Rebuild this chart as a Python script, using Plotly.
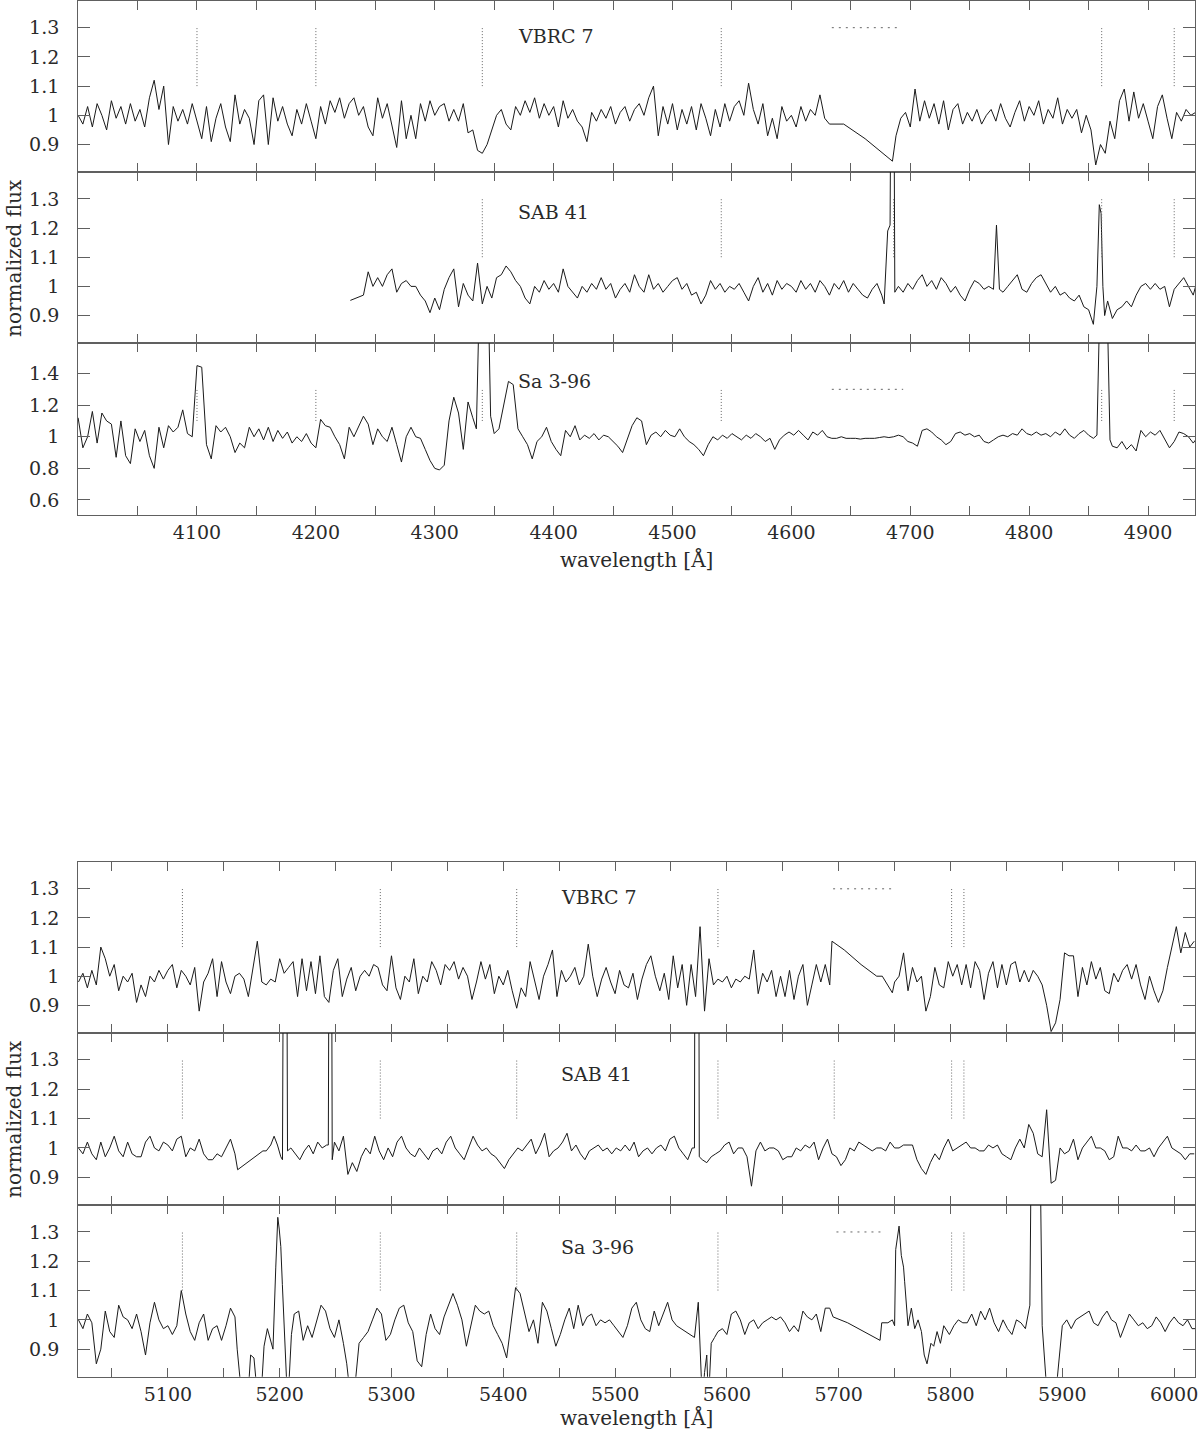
import plotly.graph_objects as go

# ------------------------------------------------------------------
# DATA  (normalized flux; wavelengths in Angstrom)
# grid segments: (start wavelength, step, flux values)
# ------------------------------------------------------------------

# ---------- blue region (4000-4940 A) ----------
VBRC7_BLUE_A_START, VBRC7_BLUE_A_STEP = 4000, 4
VBRC7_BLUE_A = [
    1.00, 0.97, 1.03, 0.96, 1.04, 1.00, 0.95, 1.05, 0.99, 1.03,
    0.97, 1.04, 0.98, 1.02, 0.96, 1.06, 1.12, 1.02, 1.10, 0.90,
    1.03, 0.98, 1.02, 0.97, 1.04, 0.98, 0.92, 1.03, 0.91, 0.99,
    1.04, 0.96, 0.91, 1.07, 0.97, 1.02, 0.99, 0.90, 1.05, 1.07,
    0.90, 1.06, 0.98, 1.03, 0.97, 0.93, 1.02, 0.97, 1.04, 0.98,
    0.92, 1.03, 0.97, 1.05, 1.01, 1.06, 0.99, 1.04, 1.06, 1.00,
    1.03, 0.96, 0.93, 1.06, 0.99, 1.04, 0.97, 0.89, 1.05, 0.92,
    1.00, 0.92, 1.04, 0.98, 1.05, 1.00, 1.03, 1.04, 0.98, 1.02,
    0.98, 1.04, 0.94, 0.95, 0.88, 0.87, 0.90, 0.95, 1.00, 1.02,
    0.97, 0.95, 1.03, 1.00, 1.05, 1.01, 1.06, 0.99, 1.04, 1.00,
    1.03, 0.96, 1.05, 0.99, 1.02, 0.98, 0.96, 0.91, 1.01, 0.98,
    1.02, 0.99, 1.03, 0.97, 1.01, 1.03, 0.98, 1.02, 1.04, 1.00,
    1.06, 1.10, 0.93, 1.03, 0.97, 1.04, 0.95, 1.02, 0.97, 1.03,
    0.95, 1.04, 0.99, 0.93, 1.02, 0.96, 1.04, 0.98, 1.03, 1.05,
    1.00, 1.11, 1.02, 0.97, 1.04, 0.93, 0.99, 0.92, 1.03, 0.98,
    1.00, 0.96, 1.03, 0.98, 1.02, 1.00, 1.07, 0.99, 0.97,
]
VBRC7_BLUE_GAP_WL = [4644, 4662, 4685]
VBRC7_BLUE_GAP_FLUX = [0.97, 0.92, 0.843]
VBRC7_BLUE_B_START, VBRC7_BLUE_B_STEP = 4688, 4
VBRC7_BLUE_B = [
    0.93, 0.99, 1.01, 0.96, 1.09, 0.98, 1.05, 0.99, 1.04, 0.97,
    1.05, 0.95, 1.02, 1.04, 0.97, 1.01, 0.98, 1.02, 0.97, 1.00,
    1.02, 0.98, 1.04, 0.99, 0.96, 1.01, 1.05, 0.98, 1.03, 1.00,
    1.05, 0.97, 1.02, 0.99, 1.06, 0.97, 1.02, 0.99, 1.02, 0.94,
    1.00, 0.95, 0.83, 0.90, 0.87, 0.98, 0.92, 1.05, 1.09, 0.98,
    1.08, 0.99, 1.04, 0.98, 0.92, 1.03, 1.07, 0.99, 0.92, 1.01,
    0.98, 1.02, 1.00, 1.01,
]

SAB41_BLUE_START_WL = [4229]
SAB41_BLUE_START_FLUX = [0.952]
SAB41_BLUE_A_START, SAB41_BLUE_A_STEP = 4240, 4
SAB41_BLUE_A = [
    0.97, 1.05, 1.00, 1.03, 1.00, 1.04, 1.06, 0.98, 1.01, 1.02,
    1.00, 1.00, 0.97, 0.95, 0.91, 0.96, 0.92, 0.99, 1.03, 1.06,
    0.93, 1.01, 0.97, 0.95, 1.08, 0.94, 1.00, 0.96, 1.03, 1.04,
    1.07, 1.05, 1.02, 1.00, 0.96, 0.94, 1.00, 0.98, 1.02, 0.99,
    1.01, 0.98, 1.06, 1.00, 0.98, 0.96, 1.00, 0.98, 1.01, 0.99,
    1.03, 0.99, 1.01, 0.96, 0.99, 1.01, 0.98, 1.04, 1.00, 0.98,
    1.04, 0.99, 1.01, 0.98, 1.00, 1.02, 1.03, 0.99, 1.01, 0.97,
    0.98, 0.94, 0.97, 1.02, 0.99, 1.01, 0.98, 1.00, 0.99, 1.01,
    0.98, 0.95, 1.00, 1.03, 0.98, 1.01, 0.97, 1.02, 0.99, 1.01,
    1.00, 0.98, 1.02, 0.99, 1.01, 0.98, 1.02, 1.00, 0.97, 1.01,
    0.99, 1.02, 0.98, 1.01, 0.99, 0.97, 0.96, 0.99, 1.01, 0.97,
]
SAB41_HEII_WL = [4678, 4681, 4683, 4684, 4686, 4687]
SAB41_HEII_FLUX = [0.94, 1.19, 1.21, 1.95, 1.95, 0.98]
SAB41_BLUE_B_START, SAB41_BLUE_B_STEP = 4690, 4
SAB41_BLUE_B = [
    1.00, 0.98, 1.01, 0.99, 1.02, 1.04, 1.00, 1.02, 0.99, 1.03,
    1.01, 0.98, 1.00, 0.97, 0.95, 0.99, 1.02, 1.01, 0.99, 1.00,
]
SAB41_4772_WL = [4770, 4772.5, 4775]
SAB41_4772_FLUX = [0.99, 1.21, 0.99]
SAB41_BLUE_C_START, SAB41_BLUE_C_STEP = 4778, 4
SAB41_BLUE_C = [
    0.98, 1.00, 1.02, 1.04, 0.99, 0.98, 1.01, 1.03, 1.04, 1.01,
    0.98, 1.00, 0.97, 0.98, 0.96, 0.95, 0.97, 0.93,
]
SAB41_HBETA_WL = [4850, 4854, 4857, 4859, 4860.5, 4862, 4863.5]
SAB41_HBETA_FLUX = [0.92, 0.87, 1.00, 1.28, 1.25, 1.00, 0.90]
SAB41_BLUE_D_START, SAB41_BLUE_D_STEP = 4866, 4
SAB41_BLUE_D = [
    0.95, 0.89, 0.92, 0.93, 0.95, 0.93, 0.97, 1.00, 1.01, 0.99,
    1.01, 0.99, 1.00, 0.93, 0.99, 1.01, 1.03, 1.00, 0.97, 1.03,
]

SA396_BLUE_A_START, SA396_BLUE_A_STEP = 4000, 4
SA396_BLUE_A = [
    1.12, 0.93, 1.00, 1.16, 0.96, 1.15, 1.10, 1.08, 0.87, 1.10,
    0.88, 0.83, 1.05, 0.97, 1.04, 0.88, 0.80, 1.06, 0.93, 1.07,
    1.03, 1.06, 1.17, 1.02, 1.00, 1.45, 1.44, 0.95, 0.86, 1.07,
    1.03, 1.06, 1.00, 0.90, 0.96, 0.93, 1.06, 1.00, 1.05, 0.98,
    1.06, 0.97, 1.04, 0.99, 1.03, 0.96, 1.00, 0.97, 1.02, 0.96,
    0.93, 1.11, 1.07, 1.06, 1.00, 0.95, 0.86, 1.06, 1.00, 1.07,
    1.13, 1.08, 0.95, 1.05, 1.00, 0.97, 1.06, 0.95, 0.84, 1.00,
    1.06, 1.00, 0.99, 0.92, 0.85, 0.80, 0.79, 0.82, 1.10, 1.25,
    1.15, 0.92, 1.22, 1.12,
]
SA396_HGAMMA_WL = [4335, 4337, 4345.5, 4347]
SA396_HGAMMA_FLUX = [1.05, 1.70, 1.70, 1.13]
SA396_BLUE_B_START, SA396_BLUE_B_STEP = 4350, 4
SA396_BLUE_B = [
    1.02, 1.05, 1.20, 1.35, 1.33, 1.05, 1.00, 0.95, 0.86, 0.97,
    1.00, 1.06, 0.97, 0.92, 0.88, 1.04, 1.00, 1.07, 0.98, 1.01,
    0.99, 1.02, 0.98, 1.01, 1.00, 0.97, 0.94, 0.90, 0.98, 1.07,
    1.12, 1.10, 0.95, 1.01, 1.03, 1.00, 1.04, 1.01, 1.00, 1.05,
    1.00, 0.97, 0.95, 0.92, 0.88, 0.95, 1.00, 0.98, 1.01, 0.99,
    1.02, 1.00, 0.98, 1.01, 0.99, 1.02, 1.00, 0.97, 0.99, 0.92,
    0.98, 1.01, 1.03, 1.01, 1.04, 1.01, 0.98, 1.03, 1.01, 1.04,
    1.00, 0.99, 0.99, 1.00, 0.99, 0.99, 0.99, 0.985, 0.99, 0.99,
    0.99, 0.995, 1.00, 0.995, 1.00, 1.01, 1.00, 0.97, 0.96, 0.94,
    1.04, 1.05, 1.03, 1.00, 0.98, 0.95, 0.97, 1.02, 1.03, 1.01,
    1.02, 1.00, 1.01, 0.97, 0.96, 0.98, 1.00, 1.01, 1.00, 1.02,
    1.01, 1.05, 1.02, 1.01, 1.03, 1.01, 1.02, 1.00, 1.03, 1.01,
    1.05, 1.01, 0.99, 1.02, 1.04, 1.01, 0.99,
]
SA396_HBETA_WL = [4857, 4859, 4866, 4868]
SA396_HBETA_FLUX = [1.01, 1.70, 1.70, 0.98]
SA396_BLUE_C_START, SA396_BLUE_C_STEP = 4870, 4
SA396_BLUE_C = [
    0.94, 0.93, 0.97, 0.92, 0.95, 0.91, 1.04, 1.00, 1.03, 1.01,
    1.04, 0.98, 0.93, 0.97, 1.03, 1.02, 1.00, 0.96, 1.00,
]

# ---------- red region (5020-6020 A) ----------
VBRC7_RED_A_START, VBRC7_RED_A_STEP = 5020, 4
VBRC7_RED_A = [
    0.98, 1.01, 0.96, 1.02, 0.97, 1.10, 1.06, 1.00, 1.04, 0.95,
    1.00, 0.98, 1.01, 0.91, 0.97, 0.93, 1.00, 0.98, 1.02, 0.99,
    1.02, 1.04, 0.96, 1.02, 1.00, 0.97, 1.03, 0.88, 0.98, 1.01,
    1.06, 0.93, 1.05, 0.98, 0.94, 1.00, 1.01, 0.99, 0.93, 1.02,
    1.12, 0.98, 0.97, 0.99, 0.98, 1.06, 1.01, 1.03, 1.05, 0.93,
    1.06, 0.95, 1.05, 0.94, 1.07, 0.93, 0.91, 1.02, 1.06, 0.93,
    0.99, 1.03, 0.95, 1.00, 1.02, 1.00, 1.04, 1.03, 0.97, 0.95,
    1.07, 0.96, 0.92, 1.00, 0.98, 1.06, 0.94, 1.00, 0.98, 1.05,
    1.02, 0.97, 1.04, 1.02, 1.05, 0.99, 1.03, 1.00, 0.92, 0.98,
    1.05, 0.99, 1.04, 0.94, 1.00, 0.97, 1.02, 0.95, 0.89, 0.96,
    0.93, 1.05, 0.98, 0.92, 1.00, 1.04, 1.09, 0.93, 1.02, 0.98,
    1.00, 1.03, 0.97, 1.00, 1.11, 1.00, 0.93, 0.99, 1.03, 0.98,
    0.94, 1.02, 0.97, 0.96, 1.01, 0.92, 0.99, 1.04, 1.07, 1.00,
    0.95, 1.01, 0.92, 1.07, 0.96, 1.04, 0.90, 1.04, 0.93, 1.17,
    0.88, 1.06, 0.97, 0.99, 0.98, 1.00, 0.96, 0.99, 0.98, 1.00,
    0.99, 1.09, 0.94, 1.01, 0.98, 1.02, 0.93, 1.00, 0.93, 1.02,
    0.92, 1.00, 1.04, 0.90, 0.97, 1.04, 0.98, 1.04, 0.97,
]
VBRC7_RED_GAP_WL = [5694, 5705, 5720, 5734, 5739, 5748]
VBRC7_RED_GAP_FLUX = [1.12, 1.09, 1.04, 1.00, 1.00, 0.943]
VBRC7_RED_B_START, VBRC7_RED_B_STEP = 5750, 4
VBRC7_RED_B = [
    0.98, 1.00, 1.08, 0.95, 1.03, 0.98, 1.00, 0.88, 0.93, 1.03,
    0.97, 0.96, 1.05, 1.00, 1.04, 0.97, 1.04, 0.96, 1.05, 1.02,
    0.92, 1.01, 1.05, 0.96, 1.04, 0.97, 1.04, 1.05, 0.98, 1.02,
    0.98, 1.02, 1.00, 0.97, 0.90, 0.81, 0.84, 0.92, 1.08, 1.07,
    1.07, 0.93, 1.03, 0.97, 1.05, 0.99, 1.03, 0.95, 0.94, 1.01,
    0.98, 1.02, 1.04, 0.99, 1.04, 0.97, 0.92, 1.00, 0.95, 0.91,
    0.95, 1.03, 1.10, 1.17, 1.08, 1.15, 1.10, 1.12,
]

SAB41_RED_A_START, SAB41_RED_A_STEP = 5020, 4
SAB41_RED_A = [
    1.00, 0.98, 1.02, 0.98, 0.96, 1.02, 0.97, 1.00, 1.04, 0.99,
    0.97, 1.02, 0.98, 0.97, 0.97, 1.02, 1.04, 1.00, 0.99, 1.02,
    1.01, 0.99, 1.03, 1.04, 0.97, 1.00, 0.99, 1.03, 0.98, 0.96,
    0.96, 0.98, 0.97, 1.00, 1.03, 0.98,
]
SAB41_5200_WL = [5162.4, 5185, 5188, 5192, 5195, 5198, 5201, 5202.5, 5203.5, 5206.2, 5207]
SAB41_5200_FLUX = [0.926, 0.99, 0.99, 1.01, 1.04, 1.01, 0.97, 0.96, 1.95, 1.95, 0.99]
SAB41_RED_B_START, SAB41_RED_B_STEP = 5210, 4
SAB41_RED_B = [1.00, 0.98, 0.96, 0.99, 1.01, 0.98, 1.02, 1.00, 1.01]
SAB41_5245_WL = [5243.5, 5244.3, 5246.3, 5247]
SAB41_5245_FLUX = [1.01, 1.95, 1.95, 0.96]
SAB41_RED_C_START, SAB41_RED_C_STEP = 5249, 4
SAB41_RED_C = [
    1.02, 0.99, 1.04, 0.91, 0.95, 0.92, 0.97, 1.00, 0.98, 1.04,
    0.99, 0.96, 1.00, 0.97, 1.02, 1.04, 1.00, 0.98, 0.97, 1.00,
    0.98, 0.96, 0.99, 1.00, 0.98, 1.02, 1.04, 1.00, 0.98, 0.96,
    1.00, 1.04, 1.01, 0.99, 1.00, 0.98, 0.97, 0.95, 0.93, 0.96,
    0.98, 1.00, 0.99, 1.01, 1.03, 0.98, 1.01, 1.05, 0.97, 0.99,
    1.00, 1.02, 1.05, 0.99, 1.01, 0.98, 0.96, 0.99, 1.00, 1.01,
    0.99, 1.00, 0.98, 1.00, 0.99, 1.01, 0.99, 1.02, 0.97, 0.99,
    1.00, 0.98, 1.00, 1.01, 0.99, 1.03, 1.04, 1.00, 0.98, 0.96,
    1.00,
]
SAB41_5572_WL = [5571, 5571.5, 5574.8, 5575.3]
SAB41_5572_FLUX = [1.00, 1.95, 1.95, 0.97]
SAB41_RED_D_START, SAB41_RED_D_STEP = 5578, 4
SAB41_RED_D = [
    0.96, 0.95, 0.97, 0.98, 0.99, 1.01, 1.02, 0.98, 1.00, 1.00,
    0.97, 0.87, 0.99, 1.02, 0.99, 1.00, 1.00, 0.99, 0.96, 0.97,
    0.97, 1.00, 0.99, 1.01, 1.00, 1.02, 0.96, 1.00, 1.03, 0.98,
    0.97, 0.94, 0.96, 1.00, 0.99, 1.02, 1.01, 1.00, 0.99, 1.00,
    1.00, 0.99, 1.02, 1.00, 1.00, 1.01, 1.01, 1.01, 0.96, 0.93,
    0.91, 0.95, 0.98, 0.96, 1.00, 1.03, 0.99, 1.00, 1.01, 1.02,
    1.00, 1.00, 0.99, 0.99, 1.01, 1.00, 1.01, 0.98, 0.97, 0.96,
    1.00, 1.03, 1.00, 1.08, 1.05, 0.98, 0.97, 1.13, 0.88, 0.89,
    1.00, 0.98, 0.99, 1.03, 0.96, 1.00, 1.02, 1.04, 1.00, 1.00,
    0.99, 0.96, 0.97, 1.04, 1.00, 1.00, 0.99, 1.01, 0.99, 0.99,
    1.00, 0.97, 1.00, 1.02, 1.04, 1.00, 0.99, 0.98, 0.96, 0.98,
    0.98,
]

SA396_RED_A_START, SA396_RED_A_STEP = 5020, 4
SA396_RED_A = [
    1.00, 0.97, 1.02, 0.99, 0.85, 0.90, 1.03, 0.96, 0.94, 1.05,
    1.01, 1.00, 0.97, 1.02, 0.96, 0.88, 0.99, 1.06, 1.00, 0.97,
    0.98, 0.95, 0.98, 1.10, 1.02, 0.96, 0.93, 0.99, 1.02, 0.93,
    0.97, 0.98, 0.93, 0.98, 1.04, 1.01,
]
SA396_5200_WL = [5162, 5164, 5167, 5171, 5174, 5177, 5179, 5181, 5184, 5186, 5189, 5192,
                 5194, 5196.5, 5198.3, 5199.6, 5201, 5202.4, 5204.5, 5206, 5207, 5208.5, 5210.5]
SA396_5200_FLUX = [0.90, 0.80, 0.70, 0.70, 0.88, 0.87, 0.79, 0.70, 0.78, 0.91, 0.97, 0.93,
                   0.90, 1.18, 1.35, 1.31, 1.25, 1.12, 0.92, 0.80, 0.72, 0.80, 0.95]
SA396_RED_B_START, SA396_RED_B_STEP = 5213, 4
SA396_RED_B = [1.02, 1.03, 0.93, 0.98, 0.94, 1.00, 1.05, 1.03, 0.97, 0.94, 1.00, 0.92]
SA396_5265_WL = [5260, 5262, 5265, 5268, 5271]
SA396_5265_FLUX = [0.85, 0.78, 0.70, 0.80, 0.92]
SA396_RED_C_START, SA396_RED_C_STEP = 5275, 4
SA396_RED_C = [
    0.94, 0.96, 1.00, 1.04, 1.02, 0.93, 0.95, 1.00, 1.04, 1.05,
    0.99, 0.96, 0.86, 0.84, 0.95, 1.02, 0.97, 0.95, 1.01, 1.05,
    1.09, 1.05, 1.00, 0.91, 0.98, 1.05, 1.03, 1.02, 1.03, 0.98,
    0.95, 0.92, 0.87, 1.00, 1.11, 1.09, 1.03, 0.96, 1.00, 0.92,
    1.06, 1.03, 0.97, 0.91, 0.95, 1.00, 1.04, 0.97, 1.05, 0.98,
    1.01, 1.02, 0.98, 1.00, 0.99, 1.00, 0.98, 0.96, 0.94, 0.98,
    1.04, 1.06, 1.00, 0.97, 0.96, 1.03, 0.98, 1.02, 1.06, 1.00,
    0.98, 0.97, 0.96, 0.95, 0.94,
]
SA396_5580_WL = [5574.4, 5576, 5578, 5580, 5582, 5583.5, 5586, 5589]
SA396_5580_FLUX = [1.06, 0.85, 0.72, 0.82, 0.88, 0.72, 0.92, 0.94]
SA396_RED_D_START, SA396_RED_D_STEP = 5592, 4
SA396_RED_D = [
    0.96, 0.97, 0.95, 1.02, 1.03, 1.00, 0.95, 0.99, 1.00, 0.97,
    0.99, 1.00, 1.01, 1.00, 1.01, 0.99, 0.96, 0.98, 0.96, 1.03,
    1.01, 1.00, 1.02, 0.96, 1.04, 1.04,
]
SA396_5750_WL = [5695, 5708, 5723, 5737, 5738.5, 5744, 5748, 5750, 5751, 5754, 5756, 5758,
                 5759, 5762, 5765, 5768, 5771, 5774, 5776.5, 5779, 5782.5, 5785, 5788,
                 5791, 5794, 5799, 5803]
SA396_5750_FLUX = [1.01, 0.99, 0.96, 0.93, 0.99, 0.99, 1.00, 0.98, 1.24, 1.32, 1.22, 1.18,
                   1.13, 0.98, 1.04, 0.97, 1.00, 0.96, 0.88, 0.85, 0.92, 0.91, 0.96,
                   0.92, 0.98, 0.95, 0.98]
SA396_RED_E_START, SA396_RED_E_STEP = 5807, 4
SA396_RED_E = [
    1.00, 0.99, 0.99, 1.02, 0.98, 1.03, 1.00, 1.04, 0.99, 0.96,
    1.00, 0.97, 0.95, 1.00, 0.99, 0.97, 1.05,
]
SA396_5876_WL = [5873, 5879, 5882, 5886, 5890, 5895.5, 5900]
SA396_5876_FLUX = [1.95, 1.95, 0.98, 0.80, 0.55, 0.80, 0.98]
SA396_RED_F_START, SA396_RED_F_STEP = 5904, 4
SA396_RED_F = [
    1.00, 0.97, 1.00, 1.01, 1.02, 1.03, 0.99, 0.98, 1.01, 1.03,
    1.00, 0.99, 0.94, 0.98, 1.02, 1.00, 0.98, 0.99, 0.97, 0.98,
    1.01, 0.99, 0.96, 0.99, 1.01, 0.99, 0.98, 1.00, 0.97, 0.97,
]

# ---------- line identifications (dotted markers) ----------
BLUE_VBRC7_MARKS = [4100, 4200, 4340, 4541, 4861, 4922]
BLUE_SAB41_MARKS = [4340, 4541, 4686, 4861, 4922]
BLUE_SA396_MARKS = [4100, 4200, 4340, 4541, 4861, 4922]
RED_VBRC7_MARKS = [5113, 5290, 5412, 5592, 5801, 5812]
RED_SAB41_MARKS = [5113, 5290, 5412, 5592, 5696, 5801, 5812]
RED_SA396_MARKS = [5113, 5290, 5412, 5592, 5801, 5812]
MARK_LOW, MARK_HIGH = 1.1, 1.3
BLUE_VBRC7_BAND = [4634, 4690]
BLUE_SA396_BAND = [4634, 4694]
RED_VBRC7_BAND = [5695, 5747]
RED_SA396_BAND = [5698, 5739]

STAR_NAMES = ["VBRC 7", "SAB 41", "Sa 3-96"]

BLUE_TICK_LABELS = ["4100", "4200", "4300", "4400", "4500", "4600", "4700", "4800", "4900"]
RED_TICK_LABELS = ["5100", "5200", "5300", "5400", "5500", "5600", "5700", "5800", "5900", "6000"]
NARROW_Y_LABELS = ["0.9", "1", "1.1", "1.2", "1.3"]
WIDE_Y_LABELS = ["0.6", "0.8", "1", "1.2", "1.4"]

BLUE_RANGE = [4000, 4939.5]
RED_RANGE = [5019.7, 6018.7]
NARROW_Y_RANGE = [0.806, 1.392]
WIDE_Y_RANGE = [0.505, 1.593]


# ------------------------------------------------------------------
def grid(start, step, vals):
    return [start + i * step for i in range(len(vals))], list(vals)


def join(*parts):
    xs, ys = [], []
    for px, py in parts:
        xs += list(px)
        ys += list(py)
    return xs, ys


spectra = [
    join(grid(VBRC7_BLUE_A_START, VBRC7_BLUE_A_STEP, VBRC7_BLUE_A),
         (VBRC7_BLUE_GAP_WL, VBRC7_BLUE_GAP_FLUX),
         grid(VBRC7_BLUE_B_START, VBRC7_BLUE_B_STEP, VBRC7_BLUE_B)),
    join((SAB41_BLUE_START_WL, SAB41_BLUE_START_FLUX),
         grid(SAB41_BLUE_A_START, SAB41_BLUE_A_STEP, SAB41_BLUE_A),
         (SAB41_HEII_WL, SAB41_HEII_FLUX),
         grid(SAB41_BLUE_B_START, SAB41_BLUE_B_STEP, SAB41_BLUE_B),
         (SAB41_4772_WL, SAB41_4772_FLUX),
         grid(SAB41_BLUE_C_START, SAB41_BLUE_C_STEP, SAB41_BLUE_C),
         (SAB41_HBETA_WL, SAB41_HBETA_FLUX),
         grid(SAB41_BLUE_D_START, SAB41_BLUE_D_STEP, SAB41_BLUE_D)),
    join(grid(SA396_BLUE_A_START, SA396_BLUE_A_STEP, SA396_BLUE_A),
         (SA396_HGAMMA_WL, SA396_HGAMMA_FLUX),
         grid(SA396_BLUE_B_START, SA396_BLUE_B_STEP, SA396_BLUE_B),
         (SA396_HBETA_WL, SA396_HBETA_FLUX),
         grid(SA396_BLUE_C_START, SA396_BLUE_C_STEP, SA396_BLUE_C)),
    join(grid(VBRC7_RED_A_START, VBRC7_RED_A_STEP, VBRC7_RED_A),
         (VBRC7_RED_GAP_WL, VBRC7_RED_GAP_FLUX),
         grid(VBRC7_RED_B_START, VBRC7_RED_B_STEP, VBRC7_RED_B)),
    join(grid(SAB41_RED_A_START, SAB41_RED_A_STEP, SAB41_RED_A),
         (SAB41_5200_WL, SAB41_5200_FLUX),
         grid(SAB41_RED_B_START, SAB41_RED_B_STEP, SAB41_RED_B),
         (SAB41_5245_WL, SAB41_5245_FLUX),
         grid(SAB41_RED_C_START, SAB41_RED_C_STEP, SAB41_RED_C),
         (SAB41_5572_WL, SAB41_5572_FLUX),
         grid(SAB41_RED_D_START, SAB41_RED_D_STEP, SAB41_RED_D)),
    join(grid(SA396_RED_A_START, SA396_RED_A_STEP, SA396_RED_A),
         (SA396_5200_WL, SA396_5200_FLUX),
         grid(SA396_RED_B_START, SA396_RED_B_STEP, SA396_RED_B),
         (SA396_5265_WL, SA396_5265_FLUX),
         grid(SA396_RED_C_START, SA396_RED_C_STEP, SA396_RED_C),
         (SA396_5580_WL, SA396_5580_FLUX),
         grid(SA396_RED_D_START, SA396_RED_D_STEP, SA396_RED_D),
         (SA396_5750_WL, SA396_5750_FLUX),
         grid(SA396_RED_E_START, SA396_RED_E_STEP, SA396_RED_E),
         (SA396_5876_WL, SA396_5876_FLUX),
         grid(SA396_RED_F_START, SA396_RED_F_STEP, SA396_RED_F)),
]

marks = [BLUE_VBRC7_MARKS, BLUE_SAB41_MARKS, BLUE_SA396_MARKS,
         RED_VBRC7_MARKS, RED_SAB41_MARKS, RED_SA396_MARKS]
bands = [BLUE_VBRC7_BAND, None, BLUE_SA396_BAND, RED_VBRC7_BAND, None, RED_SA396_BAND]

# ------------------------------------------------------------------
# LAYOUT (pixel geometry of the 1200 x 1431 page)
W, H = 1200, 1431
PX_LEFT, PX_RIGHT = 78.3, 1198.0
PANELS_PX = [(0.8, 172), (172, 343), (343, 515), (862, 1032.7), (1032.7, 1205), (1205, 1376.7)]
LABEL_POS = [(4368.6, 1.273), (4368.6, 1.254), (4368.6, 1.354),
             (5449.4, 1.272), (5449.4, 1.253), (5449.4, 1.248)]

FONT = "DejaVu Serif"
INK = "#1a1a1a"
TXT = "#2a2a2a"
FRAME = "#606060"

fig = go.Figure()
shapes = []
annotations = []

for i in range(6):
    n = "" if i == 0 else str(i + 1)
    xs, ys = spectra[i]
    fig.add_trace(go.Scatter(x=xs, y=ys, mode="lines", xaxis="x" + n, yaxis="y" + n,
                             line=dict(color=INK, width=1), hoverinfo="skip", showlegend=False))

    blue = i < 3
    wide = (i == 2)
    xlabels = BLUE_TICK_LABELS if blue else RED_TICK_LABELS
    major = [float(t) for t in xlabels]
    tickvals, ticktext = [], []
    for v, t in zip(major, xlabels):
        tickvals += [v - 50, v]
        ticktext += ["", t]
    ylabels = WIDE_Y_LABELS if wide else NARROW_Y_LABELS
    top_px, bot_px = PANELS_PX[i]
    bottom_panel = i in (2, 5)

    fig.layout["xaxis" + n] = dict(
        domain=[PX_LEFT / W, PX_RIGHT / W], range=BLUE_RANGE if blue else RED_RANGE,
        anchor="y" + n, showline=True, mirror="ticks", linecolor=FRAME, linewidth=1,
        ticks="inside", ticklen=9, tickwidth=1.2, tickcolor=FRAME,
        tickmode="array", tickvals=tickvals, ticktext=ticktext,
        showticklabels=bottom_panel, ticklabelstandoff=0, ticklabeloverflow="allow",
        tickfont=dict(family=FONT, size=19, color=TXT),
        showgrid=False, zeroline=False, fixedrange=True,
    )
    fig.layout["yaxis" + n] = dict(
        domain=[1 - bot_px / H, 1 - top_px / H],
        range=WIDE_Y_RANGE if wide else NARROW_Y_RANGE,
        anchor="x" + n, showline=True, mirror="ticks", linecolor=FRAME, linewidth=1,
        ticks="inside", ticklen=12, tickwidth=1.2, tickcolor=FRAME,
        tickmode="array", tickvals=[float(t) for t in ylabels], ticktext=ylabels,
        ticklabelstandoff=14,
        tickfont=dict(family=FONT, size=19, color=TXT),
        showgrid=False, zeroline=False, fixedrange=True,
    )

    for m in marks[i]:
        shapes.append(dict(type="line", xref="x" + n, yref="y" + n, x0=m, x1=m,
                           y0=MARK_LOW, y1=MARK_HIGH,
                           line=dict(color="#666666", width=1, dash="1px,2px")))
    if bands[i] is not None:
        shapes.append(dict(type="line", xref="x" + n, yref="y" + n,
                           x0=bands[i][0], x1=bands[i][1], y0=MARK_HIGH, y1=MARK_HIGH,
                           line=dict(color="#666666", width=1, dash="2px,5px")))

    lx, ly = LABEL_POS[i]
    annotations.append(dict(text=STAR_NAMES[i % 3], x=lx, y=ly, xref="x" + n, yref="y" + n,
                            xanchor="left", yanchor="middle", showarrow=False,
                            font=dict(family=FONT, size=19, color=TXT)))

# axis titles
for ycen in (258, 1119):
    annotations.append(dict(text="normalized flux", x=14 / W, y=1 - ycen / H, xref="paper",
                            yref="paper", textangle=-90, xanchor="center", yanchor="middle",
                            showarrow=False, font=dict(family=FONT, size=20, color=TXT)))
for ycen in (559, 1417):
    annotations.append(dict(text="wavelength [Å]", x=(PX_LEFT + PX_RIGHT) / 2 / W,
                            y=1 - ycen / H, xref="paper", yref="paper",
                            xanchor="center", yanchor="middle", showarrow=False,
                            font=dict(family=FONT, size=20, color=TXT)))

fig.update_layout(
    width=W, height=H, margin=dict(l=0, r=0, t=0, b=0),
    paper_bgcolor="white", plot_bgcolor="white",
    shapes=shapes, annotations=annotations, showlegend=False,
)

fig.write_html(
    "out.html",
    config={"displayModeBar": False},
    post_script="document.body.style.margin='0px';document.body.style.padding='0px';"
                "document.body.style.overflow='hidden';",
)
